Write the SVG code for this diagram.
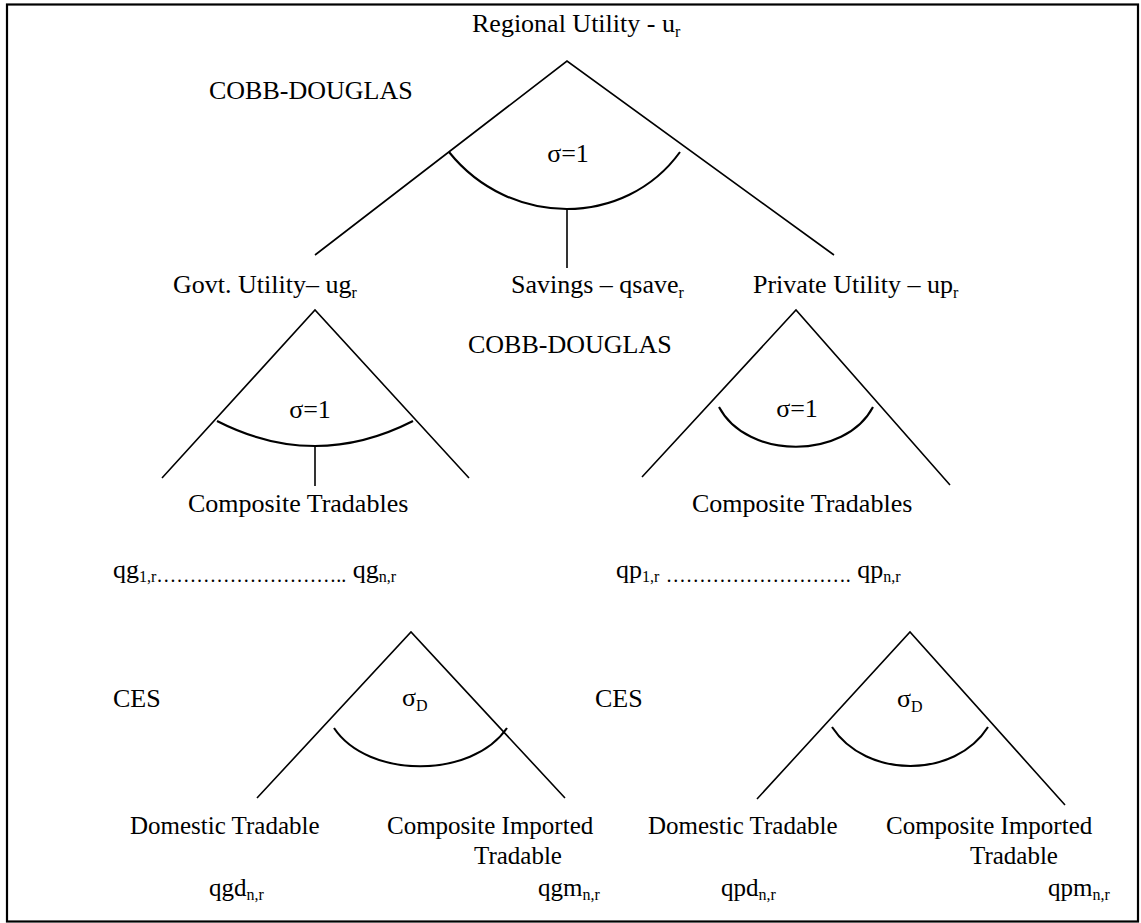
<svg xmlns="http://www.w3.org/2000/svg" width="1141" height="923" viewBox="0 0 1141 923">
<style>
text{font-size:26px;fill:#000}
text.b{font-size:25px}
.sub{font-size:16px}
.dots{font-size:20px}
.ln{stroke:#000;stroke-width:1.6;fill:none}
.cv{stroke:#000;stroke-width:2.1;fill:none}
</style>
<rect x="0" y="0" width="1141" height="923" fill="#fff"/>
<rect id="frame" x="7" y="4.5" width="1131" height="917" fill="none" stroke="#000" stroke-width="2.2"/>
<g id="connectors">
  <path class="ln" d="M315,255 L567,61 L834,255"/>
  <path class="cv" d="M449,152 C510,228 625,228 680,152"/>
  <path class="ln" d="M567,209 L567,268"/>
  <path class="ln" d="M162,478 L315,310 L469,478"/>
  <path class="cv" d="M217,421 Q315,471 413,421"/>
  <path class="ln" d="M315,446 L315,486"/>
  <path class="ln" d="M642,477 L796,310 L950,485"/>
  <path class="cv" d="M719,407 C747,460 845,460 873,407"/>
  <path class="ln" d="M257,798 L411,632 L565,798"/>
  <path class="cv" d="M334,728 C368,779 472,779 507,728"/>
  <path class="ln" d="M757,799 L910,632 L1065,805"/>
  <path class="cv" d="M832,727 C866,779 955,779 988,727"/>
</g>
<g font-family="Liberation Serif, serif">
<g id="regional-utility"><text x="472" y="32" font-size="25">Regional Utility - u<tspan class="sub" dy="5">r</tspan></text></g>
<g id="cd-top"><text x="209" y="99">COBB-DOUGLAS</text></g>
<g id="sigma-top"><text x="568" y="162" text-anchor="middle">σ=1</text></g>
<g id="govt-utility"><text x="173" y="293">Govt. Utility– ug<tspan class="sub" dy="5">r</tspan></text></g>
<g id="savings"><text x="511" y="293">Savings – qsave<tspan class="sub" dy="5">r</tspan></text></g>
<g id="private-utility"><text x="753" y="293">Private Utility – up<tspan class="sub" dy="5">r</tspan></text></g>
<g id="cd-mid"><text x="468" y="353">COBB-DOUGLAS</text></g>
<g id="sigma-govt"><text x="310" y="418" text-anchor="middle">σ=1</text></g>
<g id="sigma-priv"><text x="797" y="417" text-anchor="middle">σ=1</text></g>
<g id="ct-govt"><text x="188" y="512">Composite Tradables</text></g>
<g id="ct-priv"><text x="692" y="512">Composite Tradables</text></g>
<g id="qg-row"><text x="113" y="578">qg<tspan class="sub" dy="4">1,r</tspan><tspan class="dots">………………………..</tspan><tspan dy="-4"> qg</tspan><tspan class="sub" dy="4">n,r</tspan></text></g>
<g id="qp-row"><text x="616" y="578">qp<tspan class="sub" dy="4">1,r</tspan><tspan dy="-4"> </tspan><tspan class="dots" dy="4">……………………….</tspan><tspan dy="-4"> qp</tspan><tspan class="sub" dy="4">n,r</tspan></text></g>
<g id="ces-govt"><text x="113" y="707">CES</text></g>
<g id="ces-priv"><text x="595" y="707">CES</text></g>
<g id="sigmad-govt"><text x="402" y="706">σ<tspan class="sub" dy="5">D</tspan></text></g>
<g id="sigmad-priv"><text x="897" y="707">σ<tspan class="sub" dy="5">D</tspan></text></g>
<g id="dom-govt"><text class="b" x="130" y="834">Domestic Tradable</text><text class="b" x="209" y="896">qgd<tspan class="sub" dy="4">n,r</tspan></text></g>
<g id="imp-govt"><text class="b" x="387" y="834">Composite Imported</text><text class="b" x="474" y="864">Tradable</text><text class="b" x="538" y="896">qgm<tspan class="sub" dy="4">n,r</tspan></text></g>
<g id="dom-priv"><text class="b" x="648" y="834">Domestic Tradable</text><text class="b" x="721" y="896">qpd<tspan class="sub" dy="4">n,r</tspan></text></g>
<g id="imp-priv"><text class="b" x="886" y="834">Composite Imported</text><text class="b" x="970" y="864">Tradable</text><text class="b" x="1048" y="896">qpm<tspan class="sub" dy="4">n,r</tspan></text></g>
</g>
</svg>
